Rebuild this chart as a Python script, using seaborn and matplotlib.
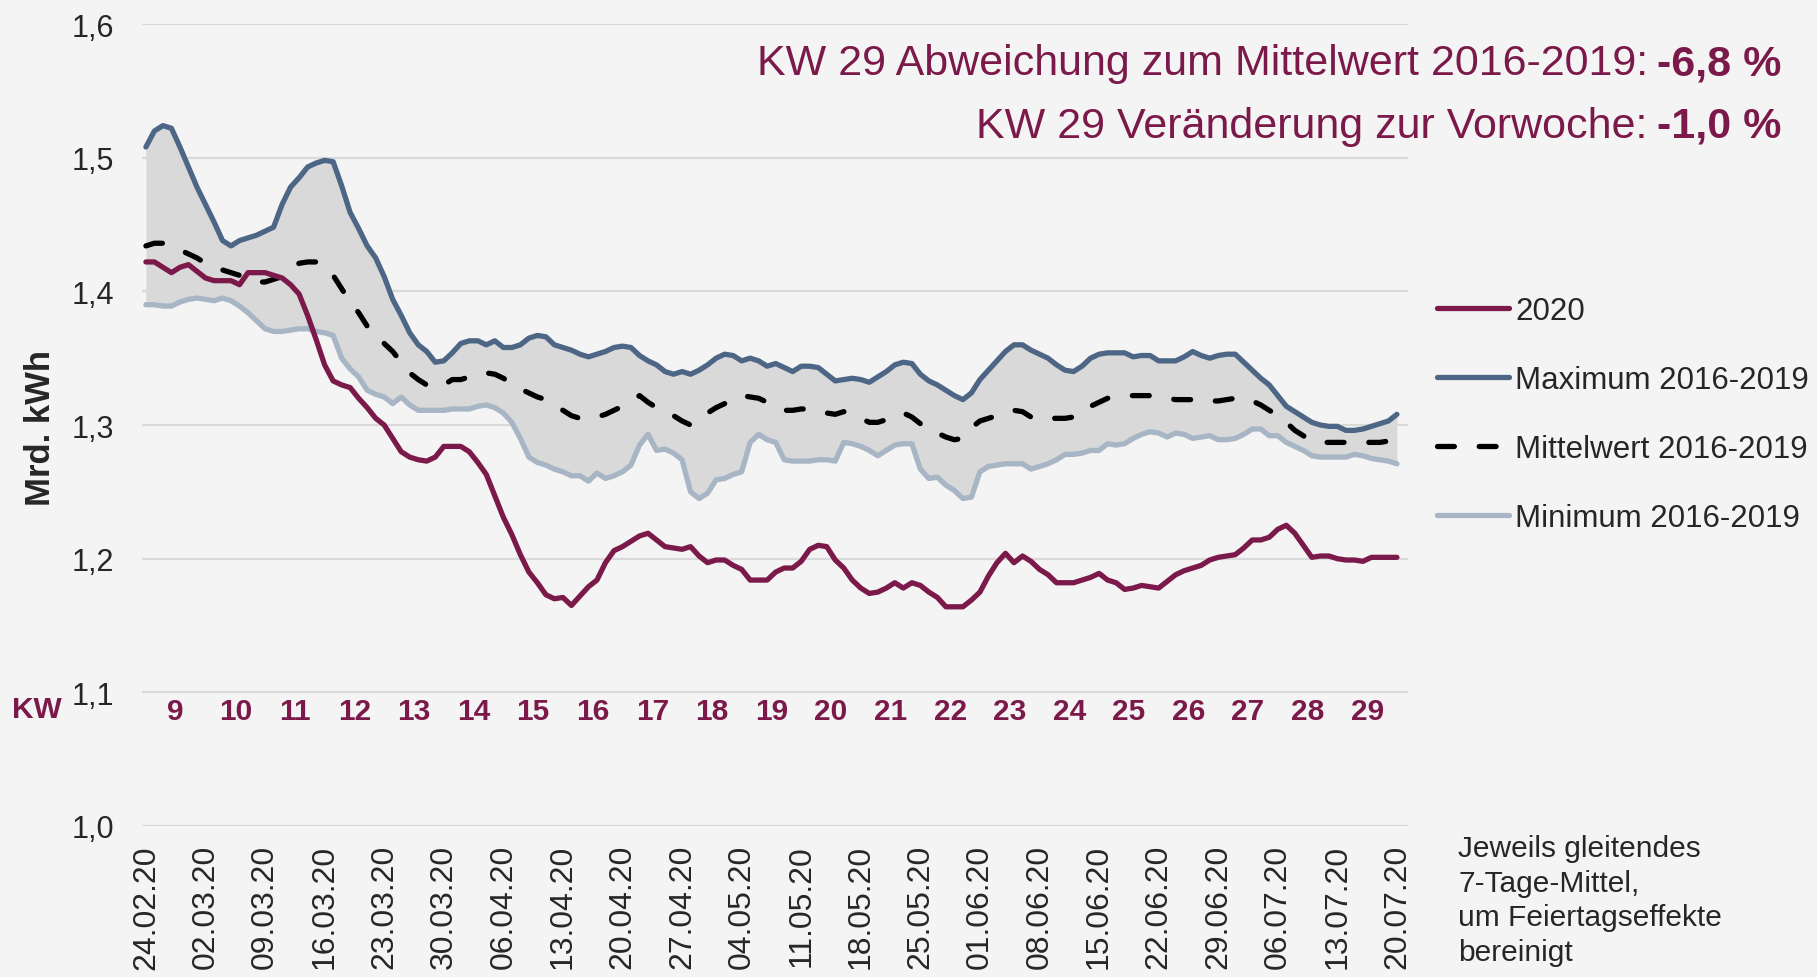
import numpy as np
import pandas as pd
import matplotlib
matplotlib.use("Agg")
import matplotlib.pyplot as plt
from matplotlib.ticker import FuncFormatter
import seaborn as sns

# Tageswerte 24.02.20 - 20.07.20 (gleitendes 7-Tage-Mittel, Mrd. kWh)
tage = pd.date_range("2020-02-24", "2020-07-20", freq="D")

werte_2020 = [
    1.422, 1.422, 1.418, 1.414, 1.418, 1.420, 1.415, 1.410, 1.408, 1.408,
    1.408, 1.405, 1.414, 1.414, 1.414, 1.412, 1.410, 1.405, 1.398, 1.382,
    1.364, 1.345, 1.333, 1.330, 1.328, 1.320, 1.313, 1.305, 1.300, 1.290,
    1.280, 1.276, 1.274, 1.273, 1.276, 1.284, 1.284, 1.284, 1.280, 1.272,
    1.263, 1.247, 1.231, 1.218, 1.203, 1.190, 1.182, 1.173, 1.170, 1.171,
    1.165, 1.172, 1.179, 1.184, 1.197, 1.206, 1.209, 1.213, 1.217, 1.219,
    1.214, 1.209, 1.208, 1.207, 1.209, 1.202, 1.197, 1.199, 1.199, 1.195,
    1.192, 1.184, 1.184, 1.184, 1.190, 1.193, 1.193, 1.198, 1.207, 1.210,
    1.209, 1.199, 1.193, 1.184, 1.178, 1.174, 1.175, 1.178, 1.182, 1.178,
    1.182, 1.180, 1.175, 1.171, 1.164, 1.164, 1.164, 1.169, 1.175, 1.187,
    1.197, 1.204, 1.197, 1.202, 1.198, 1.192, 1.188, 1.182, 1.182, 1.182,
    1.184, 1.186, 1.189, 1.184, 1.182, 1.177, 1.178, 1.180, 1.179, 1.178,
    1.183, 1.188, 1.191, 1.193, 1.195, 1.199, 1.201, 1.202, 1.203, 1.208,
    1.214, 1.214, 1.216, 1.222, 1.225, 1.219, 1.210, 1.201, 1.202, 1.202,
    1.200, 1.199, 1.199, 1.198, 1.201, 1.201, 1.201, 1.201,
]

maximum = [
    1.508, 1.520, 1.524, 1.522, 1.508, 1.493, 1.478, 1.465, 1.452, 1.438,
    1.434, 1.438, 1.440, 1.442, 1.445, 1.448, 1.465, 1.478, 1.485, 1.493,
    1.496, 1.498, 1.497, 1.479, 1.459, 1.447, 1.434, 1.425, 1.411, 1.394,
    1.382, 1.369, 1.360, 1.355, 1.347, 1.348, 1.354, 1.361, 1.363, 1.363,
    1.360, 1.363, 1.358, 1.358, 1.360, 1.365, 1.367, 1.366, 1.360, 1.358,
    1.356, 1.353, 1.351, 1.353, 1.355, 1.358, 1.359, 1.358, 1.352, 1.348,
    1.345, 1.340, 1.338, 1.340, 1.338, 1.341, 1.345, 1.350, 1.353, 1.352,
    1.348, 1.350, 1.348, 1.344, 1.346, 1.343, 1.340, 1.344, 1.344, 1.343,
    1.338, 1.333, 1.334, 1.335, 1.334, 1.332, 1.336, 1.340, 1.345, 1.347,
    1.346, 1.338, 1.333, 1.330, 1.326, 1.322, 1.319, 1.324, 1.334, 1.341,
    1.348, 1.355, 1.360, 1.360, 1.356, 1.353, 1.350, 1.345, 1.341, 1.340,
    1.344, 1.350, 1.353, 1.354, 1.354, 1.354, 1.351, 1.352, 1.352, 1.348,
    1.348, 1.348, 1.351, 1.355, 1.352, 1.350, 1.352, 1.353, 1.353, 1.347,
    1.341, 1.335, 1.330, 1.322, 1.314, 1.310, 1.306, 1.302, 1.300, 1.299,
    1.299, 1.296, 1.296, 1.297, 1.299, 1.301, 1.303, 1.308,
]

mittelwert = [
    1.434, 1.436, 1.436, 1.434, 1.431, 1.428, 1.425, 1.421, 1.418, 1.416,
    1.414, 1.412, 1.409, 1.407, 1.407, 1.409, 1.411, 1.416, 1.421, 1.422,
    1.422, 1.419, 1.412, 1.402, 1.392, 1.384, 1.374, 1.367, 1.361, 1.355,
    1.347, 1.339, 1.334, 1.330, 1.328, 1.330, 1.334, 1.334, 1.336, 1.338,
    1.339, 1.338, 1.335, 1.331, 1.327, 1.324, 1.321, 1.319, 1.315, 1.311,
    1.307, 1.305, 1.306, 1.306, 1.308, 1.311, 1.314, 1.318, 1.322, 1.317,
    1.313, 1.310, 1.307, 1.303, 1.300, 1.305, 1.309, 1.313, 1.316, 1.319,
    1.322, 1.321, 1.320, 1.317, 1.314, 1.311, 1.311, 1.312, 1.312, 1.310,
    1.309, 1.308, 1.310, 1.308, 1.305, 1.302, 1.302, 1.304, 1.307, 1.309,
    1.306, 1.301, 1.296, 1.294, 1.291, 1.289, 1.290, 1.298, 1.303, 1.305,
    1.307, 1.309, 1.311, 1.310, 1.306, 1.304, 1.305, 1.305, 1.305, 1.306,
    1.308, 1.314, 1.317, 1.320, 1.321, 1.322, 1.322, 1.322, 1.322, 1.321,
    1.320, 1.319, 1.319, 1.319, 1.319, 1.318, 1.318, 1.319, 1.320, 1.320,
    1.318, 1.315, 1.311, 1.307, 1.302, 1.296, 1.292, 1.288, 1.287, 1.287,
    1.287, 1.287, 1.287, 1.287, 1.287, 1.287, 1.288, 1.288,
]

minimum = [
    1.390, 1.390, 1.389, 1.389, 1.392, 1.394, 1.395, 1.394, 1.393, 1.395,
    1.393, 1.389, 1.384, 1.378, 1.372, 1.370, 1.370, 1.371, 1.372, 1.372,
    1.370, 1.369, 1.367, 1.350, 1.342, 1.336, 1.326, 1.323, 1.321, 1.316,
    1.321, 1.315, 1.311, 1.311, 1.311, 1.311, 1.312, 1.312, 1.312, 1.314,
    1.315, 1.313, 1.309, 1.302, 1.290, 1.276, 1.272, 1.270, 1.267, 1.265,
    1.262, 1.262, 1.258, 1.264, 1.260, 1.262, 1.265, 1.270, 1.285, 1.293,
    1.281, 1.282, 1.279, 1.274, 1.250, 1.245, 1.249, 1.259, 1.260, 1.263,
    1.265, 1.287, 1.293, 1.289, 1.287, 1.274, 1.273, 1.273, 1.273, 1.274,
    1.274, 1.273, 1.287, 1.286, 1.284, 1.281, 1.277, 1.281, 1.285, 1.286,
    1.286, 1.267, 1.260, 1.261, 1.255, 1.251, 1.245, 1.246, 1.265, 1.269,
    1.270, 1.271, 1.271, 1.271, 1.267, 1.269, 1.271, 1.274, 1.278, 1.278,
    1.279, 1.281, 1.281, 1.286, 1.285, 1.286, 1.290, 1.293, 1.295, 1.294,
    1.291, 1.294, 1.293, 1.290, 1.291, 1.292, 1.289, 1.289, 1.290, 1.293,
    1.297, 1.297, 1.292, 1.292, 1.287, 1.284, 1.281, 1.277, 1.276, 1.276,
    1.276, 1.276, 1.278, 1.277, 1.275, 1.274, 1.273, 1.271,
]

kw_nummern = list(range(9, 30))
datum_labels = list(tage[::7].strftime("%d.%m.%y"))
y_ticks = [1.0, 1.1, 1.2, 1.3, 1.4, 1.5, 1.6]

df = pd.DataFrame({
    "tag": np.arange(len(tage)),
    "2020": werte_2020,
    "maximum": maximum,
    "mittelwert": mittelwert,
    "minimum": minimum,
})

HINTERGRUND = "#f4f4f4"
BORDEAUX = "#7b1a4a"
BLAU = "#4e6685"
HELLBLAU = "#a7b5c5"
FLAECHE = "#d9d9d9"

sns.set_theme(style="white")
plt.rcParams["font.family"] = ["Liberation Sans", "DejaVu Sans"]

fig = plt.figure(figsize=(18.17, 9.78), dpi=100, facecolor=HINTERGRUND)
ax = fig.add_axes([0.0781, 0.1544, 0.6968, 0.82])
ax.set_facecolor(HINTERGRUND)

ax.fill_between(df["tag"], df["minimum"], df["maximum"], color=FLAECHE, lw=0, zorder=1)

lw = 3.8
sns.lineplot(data=df, x="tag", y="minimum", color=HELLBLAU, lw=lw, ax=ax,
             label="Minimum 2016-2019", zorder=3)
sns.lineplot(data=df, x="tag", y="mittelwert", color="black", lw=lw, ax=ax,
             label="Mittelwert 2016-2019", zorder=4)
ax.lines[-1].set_dashes((3.2, 4.7))
ax.lines[-1].set_dash_capstyle("round")
sns.lineplot(data=df, x="tag", y="maximum", color=BLAU, lw=lw, ax=ax,
             label="Maximum 2016-2019", zorder=5)
sns.lineplot(data=df, x="tag", y="2020", color=BORDEAUX, lw=lw, ax=ax,
             label="2020", zorder=6)
for ln in ax.lines:
    ln.set_solid_capstyle("round")

ax.set_xlim(-0.47, 148.3)
ax.set_ylim(1.0, 1.6)
ax.set_yticks(y_ticks)
ax.yaxis.set_major_formatter(FuncFormatter(lambda v, p: f"{v:.1f}".replace(".", ",")))
ax.set_xticks(df["tag"][::7])
ax.set_xticklabels(datum_labels, rotation=90, fontsize=23, va="top")
ax.tick_params(axis="x", length=0, pad=13)
ax.tick_params(axis="y", length=0, pad=20, labelsize=22)
ax.grid(axis="y", color=FLAECHE, lw=1.6)
ax.grid(axis="x", visible=False)
ax.set_axisbelow(True)
for s in ax.spines.values():
    s.set_visible(False)
ax.set_xlabel("")
ax.set_ylabel("")

# Kalenderwochen
for i, kw in enumerate(kw_nummern):
    ax.text(3.5 + 7 * i, 1.086, str(kw), ha="center", va="center",
            fontsize=21.5, fontweight="bold", color=BORDEAUX)
fig.text(12 / 1817, 1 - 710 / 978, "KW", ha="left", va="center",
         fontsize=21.5, fontweight="bold", color=BORDEAUX)

fig.text(41 / 1817, 1 - 428 / 978, "Mrd. kWh", rotation=90, ha="center",
         va="center", fontsize=25, fontweight="bold")

# Legende
handles, labels = ax.get_legend_handles_labels()
order = ["2020", "Maximum 2016-2019", "Mittelwert 2016-2019", "Minimum 2016-2019"]
h_sorted = [handles[labels.index(o)] for o in order]
ax.legend(h_sorted, order, loc="upper left", bbox_to_anchor=(1437 / 1817, 1 - 297 / 978),
          bbox_transform=fig.transFigure, frameon=False, fontsize=22.5,
          handlelength=2.3, handletextpad=0.2, labelspacing=1.25,
          borderpad=0, borderaxespad=0)

# Kennzahlen oben rechts
zeilen = [
    ("KW 29 Abweichung zum Mittelwert 2016-2019:", "-6,8 %", 75),
    ("KW 29 Veränderung zur Vorwoche:", "-1,0 %", 138),
]
for text, wert, base in zeilen:
    t_b = fig.text(1781 / 1817, 1 - base / 978, wert, ha="right", va="baseline",
                   fontsize=31, fontweight="bold", color=BORDEAUX)
    fig.canvas.draw()
    ax.annotate(text, xy=(0, 0), xycoords=t_b, xytext=(-9, 0),
                textcoords="offset pixels", ha="right", va="bottom",
                fontsize=31, color=BORDEAUX, annotation_clip=False)

fig.text(1458 / 1817, 1 - 835 / 978,
         "Jeweils gleitendes\n7-Tage-Mittel,\num Feiertagseffekte\nbereinigt",
         ha="left", va="top", fontsize=21.5, linespacing=1.3)

fig.savefig("out.png", dpi=100, facecolor=fig.get_facecolor())
